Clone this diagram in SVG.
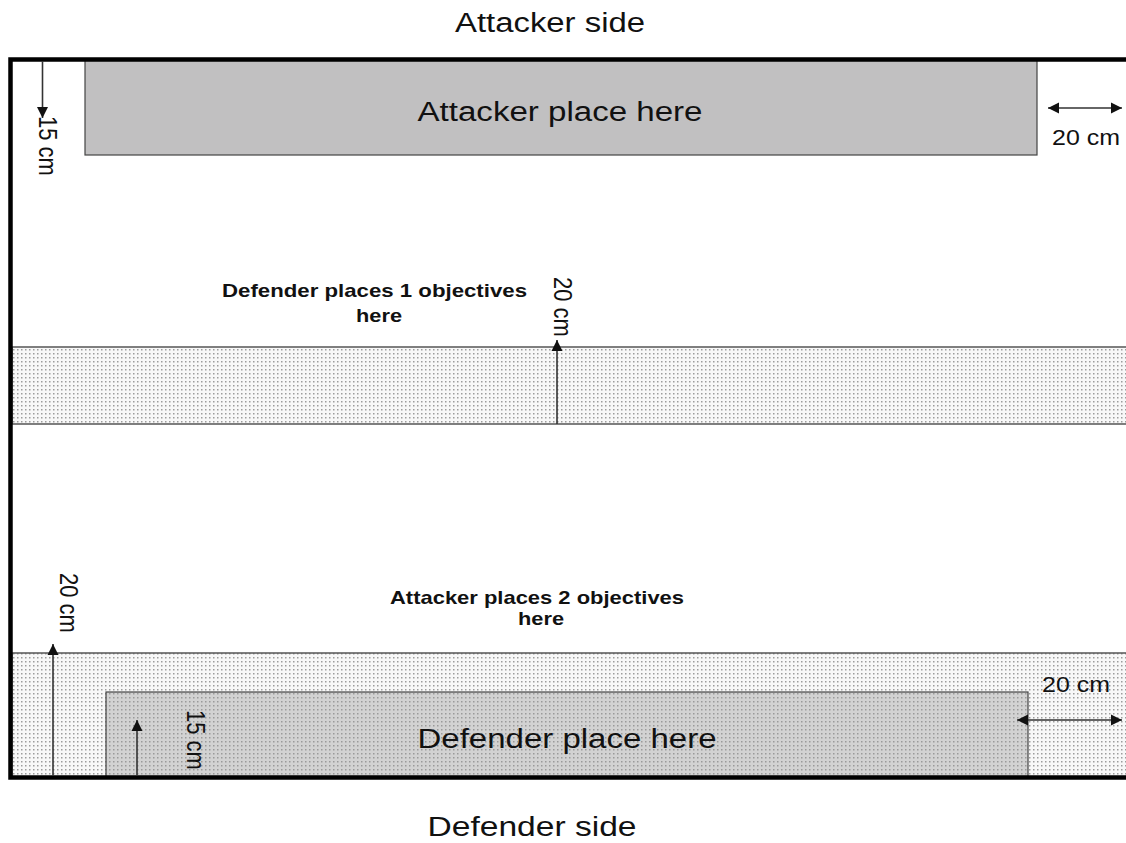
<svg xmlns="http://www.w3.org/2000/svg" width="1126" height="843" viewBox="0 0 1126 843">
<style>
text{font-family:"Liberation Sans",Arial,sans-serif;fill:#111}
.big{font-size:27px}
.lbl{font-size:19px;font-weight:bold}
.dim{font-size:22px}
.band{fill:url(#dots);stroke:#555;stroke-width:1.5}
.zone{stroke:#444;stroke-width:1.2}
.arr{stroke:#333;stroke-width:1.6;fill:none}
</style>
<defs>
<pattern id="dots" width="4" height="4" patternUnits="userSpaceOnUse">
<rect width="4" height="4" fill="#f8f8f8"/>
<rect x="1" y="1" width="1.5" height="1.5" fill="#9c9c9c"/>
</pattern>
<pattern id="dots2" width="4" height="4" patternUnits="userSpaceOnUse">
<rect width="4" height="4" fill="#d2d2d2"/>
<rect x="1" y="1" width="1.5" height="1.5" fill="#9a9a9a"/>
</pattern>
<marker id="ah" viewBox="0 0 10 10" refX="10" refY="5" markerWidth="11" markerHeight="12" markerUnits="userSpaceOnUse" orient="auto-start-reverse">
<path d="M0,0 L10,5 L0,10 Z" fill="#111"/>
</marker>
</defs>

<g id="bands">
<rect id="band-defender-objectives" class="band" x="12" y="347" width="1120" height="77"/>
<rect id="band-attacker-objectives" class="band" x="12" y="653" width="1120" height="124"/>
</g>

<g id="attacker-zone">
<rect class="zone" x="85" y="60" width="952" height="95" fill="#c1c0c1"/>
<text class="big" x="560" y="121" text-anchor="middle" textLength="285" lengthAdjust="spacingAndGlyphs">Attacker place here</text>
</g>

<g id="defender-zone">
<rect class="zone" x="106" y="692" width="922" height="85" fill="url(#dots2)"/>
<text class="big" x="567" y="748" text-anchor="middle" textLength="299" lengthAdjust="spacingAndGlyphs">Defender place here</text>
</g>

<g id="board">
<path d="M1126,59.5 H10.5 V777.5 H1126" fill="none" stroke="#000" stroke-width="4.5"/>
</g>

<g id="labels">
<text class="big" x="550" y="32" text-anchor="middle" textLength="190" lengthAdjust="spacingAndGlyphs">Attacker side</text>
<text class="big" x="532" y="836" text-anchor="middle" textLength="209" lengthAdjust="spacingAndGlyphs">Defender side</text>
<text class="lbl" x="374.5" y="297" text-anchor="middle" textLength="305" lengthAdjust="spacingAndGlyphs">Defender places 1 objectives</text>
<text class="lbl" x="379" y="322" text-anchor="middle" textLength="46" lengthAdjust="spacingAndGlyphs">here</text>
<text class="lbl" x="537" y="604" text-anchor="middle" textLength="294" lengthAdjust="spacingAndGlyphs">Attacker places 2 objectives</text>
<text class="lbl" x="541" y="625" text-anchor="middle" textLength="46" lengthAdjust="spacingAndGlyphs">here</text>
</g>

<g id="connectors">
<line class="arr" x1="42.5" y1="61" x2="42.5" y2="118" marker-end="url(#ah)"/>
<line class="arr" x1="1048" y1="108" x2="1122" y2="108" marker-start="url(#ah)" marker-end="url(#ah)"/>
<line class="arr" x1="557" y1="424" x2="557" y2="340" marker-end="url(#ah)"/>
<line class="arr" x1="53" y1="776" x2="53" y2="644" marker-end="url(#ah)"/>
<line class="arr" x1="137" y1="776" x2="137" y2="720" marker-end="url(#ah)"/>
<line class="arr" x1="1017" y1="720" x2="1122" y2="720" marker-start="url(#ah)" marker-end="url(#ah)"/>
</g>

<g id="dimension-labels">
<text class="dim" x="1086" y="145" text-anchor="middle" textLength="68" lengthAdjust="spacingAndGlyphs">20 cm</text>
<text class="dim" x="1076" y="692" text-anchor="middle" textLength="68" lengthAdjust="spacingAndGlyphs">20 cm</text>
<text class="dim" transform="translate(39,116) scale(1.2,1) rotate(90)">15 cm</text>
<text class="dim" transform="translate(554,277) scale(1.2,1) rotate(90)">20 cm</text>
<text class="dim" transform="translate(60,573) scale(1.2,1) rotate(90)">20 cm</text>
<text class="dim" transform="translate(187,710) scale(1.2,1) rotate(90)">15 cm</text>
</g>
</svg>
